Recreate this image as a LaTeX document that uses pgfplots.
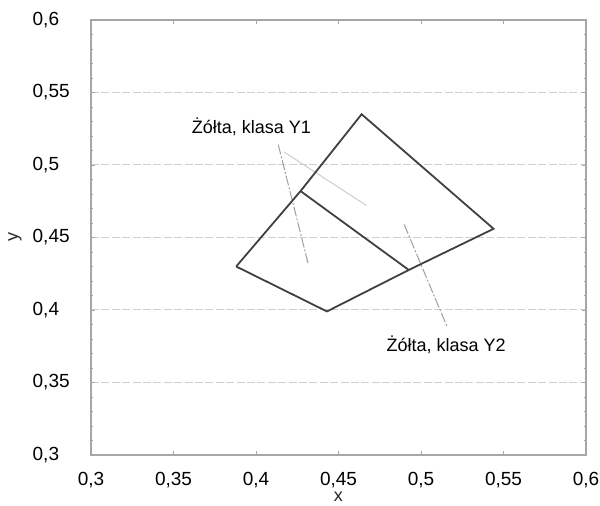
\documentclass[border=0pt]{standalone}
\usepackage{fontspec}
\setmainfont{Liberation Sans}
\usepackage{pgfplots}
\pgfplotsset{compat=1.18}
\begin{document}
\begin{tikzpicture}
\begin{axis}[
  scale only axis,
  width=247.5pt, height=217.5pt,
  xmin=0.3, xmax=0.6, ymin=0.3, ymax=0.6,
  xtick={0.3,0.35,...,0.6}, ytick={0.3,0.35,...,0.6},
  /pgf/number format/assume math mode=true,
  /pgf/number format/.cd, fixed, use comma, precision=2, /pgfplots/.cd,
  ticklabel style={font=\fontsize{9.5}{11}\selectfont, text=black},
  yticklabel style={anchor=west, xshift=-32.7pt},
  xticklabel style={yshift=-5pt},
  ymajorgrids,
  major grid style={gray!38, dash pattern=on 4pt off 1.2pt, line width=0.5pt},
  axis line style={gray!70, line width=0.6pt},
  tick style={gray!70, line width=0.4pt},
  major tick length=2pt,
  minor y tick num=4, minor tick length=1.2pt,
  tick align=inside,
  xlabel={x},
  label style={font=\fontsize{9}{11}\selectfont, text=black!85},
  xlabel style={at={(axis description cs:0.5,0)}, anchor=center, yshift=-21pt},
  clip=false,
]
\addplot[gray!40, line width=0.5pt] coordinates {(0.417,0.509) (0.467,0.472)};
\addplot[gray!75, line width=0.5pt, dash pattern=on 5pt off 1pt on 1pt off 1pt] coordinates {(0.4135,0.514) (0.4316,0.432)};
\addplot[gray!75, line width=0.5pt, dash pattern=on 5pt off 1pt on 1pt off 1pt] coordinates {(0.4898,0.459) (0.5158,0.3885)};
\addplot[black!75, line width=0.9pt, line join=miter] coordinates {
  (0.388,0.430) (0.427,0.482) (0.464,0.535) (0.544,0.456) (0.4926,0.4276) (0.443,0.399) (0.388,0.430)};
\addplot[black!75, line width=0.9pt] coordinates {(0.427,0.482) (0.4926,0.4276)};
\node[font=\fontsize{9}{11}\selectfont, text=black] at (axis cs:0.3972,0.5264) {Żółta, klasa Y1};
\node[font=\fontsize{9}{11}\selectfont, text=black] at (axis cs:0.5153,0.3759) {Żółta, klasa Y2};
\node[font=\fontsize{9}{11}\selectfont, text=black!85, rotate=90, anchor=center] at ([xshift=-38pt]axis description cs:0,0.5) {y};
\end{axis}
\pgfresetboundingbox
\path[use as bounding box] ([shift={(-45.5pt,-25.5pt)}]current axis.south west) rectangle ([shift={(7pt,10pt)}]current axis.north east);
\end{tikzpicture}
\end{document}
